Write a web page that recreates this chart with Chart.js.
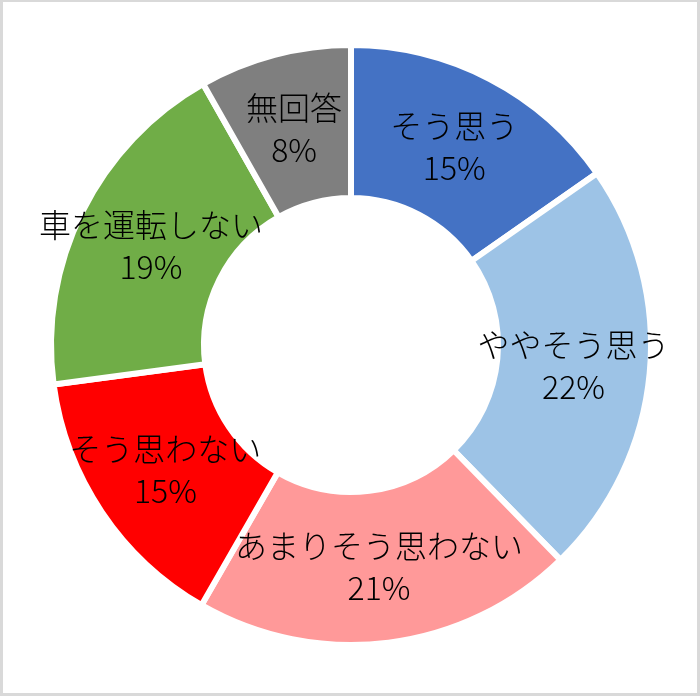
<!DOCTYPE html>
<html>
<head>
<meta charset="utf-8">
<script src="https://cdn.jsdelivr.net/npm/chart.js@4/dist/chart.umd.min.js"></script>
<style>
  html, body { margin: 0; padding: 0; background: #fff; }
  #wrap { position: relative; width: 700px; height: 696px; }
  #frame { position: absolute; left: 0; top: 0; width: 700px; height: 696px; box-sizing: border-box;
           border: 3px solid #d9d9d9; border-top-width: 2px; pointer-events: none; }
</style>
</head>
<body>
<div id="wrap">
  <canvas id="c"></canvas>
  <div id="frame"></div>
</div>
<script>
const categories = ['そう思う', 'ややそう思う', 'あまりそう思わない', 'そう思わない', '車を運転しない', '無回答'];
const values = [15.3, 22.4, 20.6, 14.6, 18.9, 8.2];
const colors = ['#4472C4', '#9DC3E6', '#FF9999', '#FF0000', '#70AD47', '#7F7F7F'];

const total = values.reduce((a, b) => a + b, 0);
const percentLabels = values.map(v => Math.round(v / total * 100) + '%');

const labelPlugin = {
  id: 'sliceLabels',
  afterDatasetsDraw(chart) {
    const ctx = chart.ctx;
    const meta = chart.getDatasetMeta(0);
    ctx.save();
    ctx.font = '300 32px "Noto Sans CJK JP", "Noto Sans", sans-serif';
    ctx.fillStyle = '#000';
    ctx.textAlign = 'center';
    ctx.textBaseline = 'middle';
    meta.data.forEach((arc, i) => {
      const p = arc.tooltipPosition();
      ctx.fillText(categories[i], p.x, p.y - 21);
      ctx.fillText(percentLabels[i], p.x, p.y + 21);
    });
    ctx.restore();
  }
};

new Chart(document.getElementById('c'), {
  type: 'doughnut',
  data: {
    labels: categories,
    datasets: [{
      data: values,
      backgroundColor: colors,
      borderColor: '#ffffff',
      borderWidth: 6,
      hoverOffset: 0
    }]
  },
  options: {
    responsive: true,
    maintainAspectRatio: false,
    animation: false,
    cutout: '49%',
    layout: { padding: { left: 48, right: 46, top: 42, bottom: 48 } },
    plugins: {
      legend: { display: false },
      tooltip: { enabled: false }
    }
  },
  plugins: [labelPlugin]
});
</script>
</body>
</html>
